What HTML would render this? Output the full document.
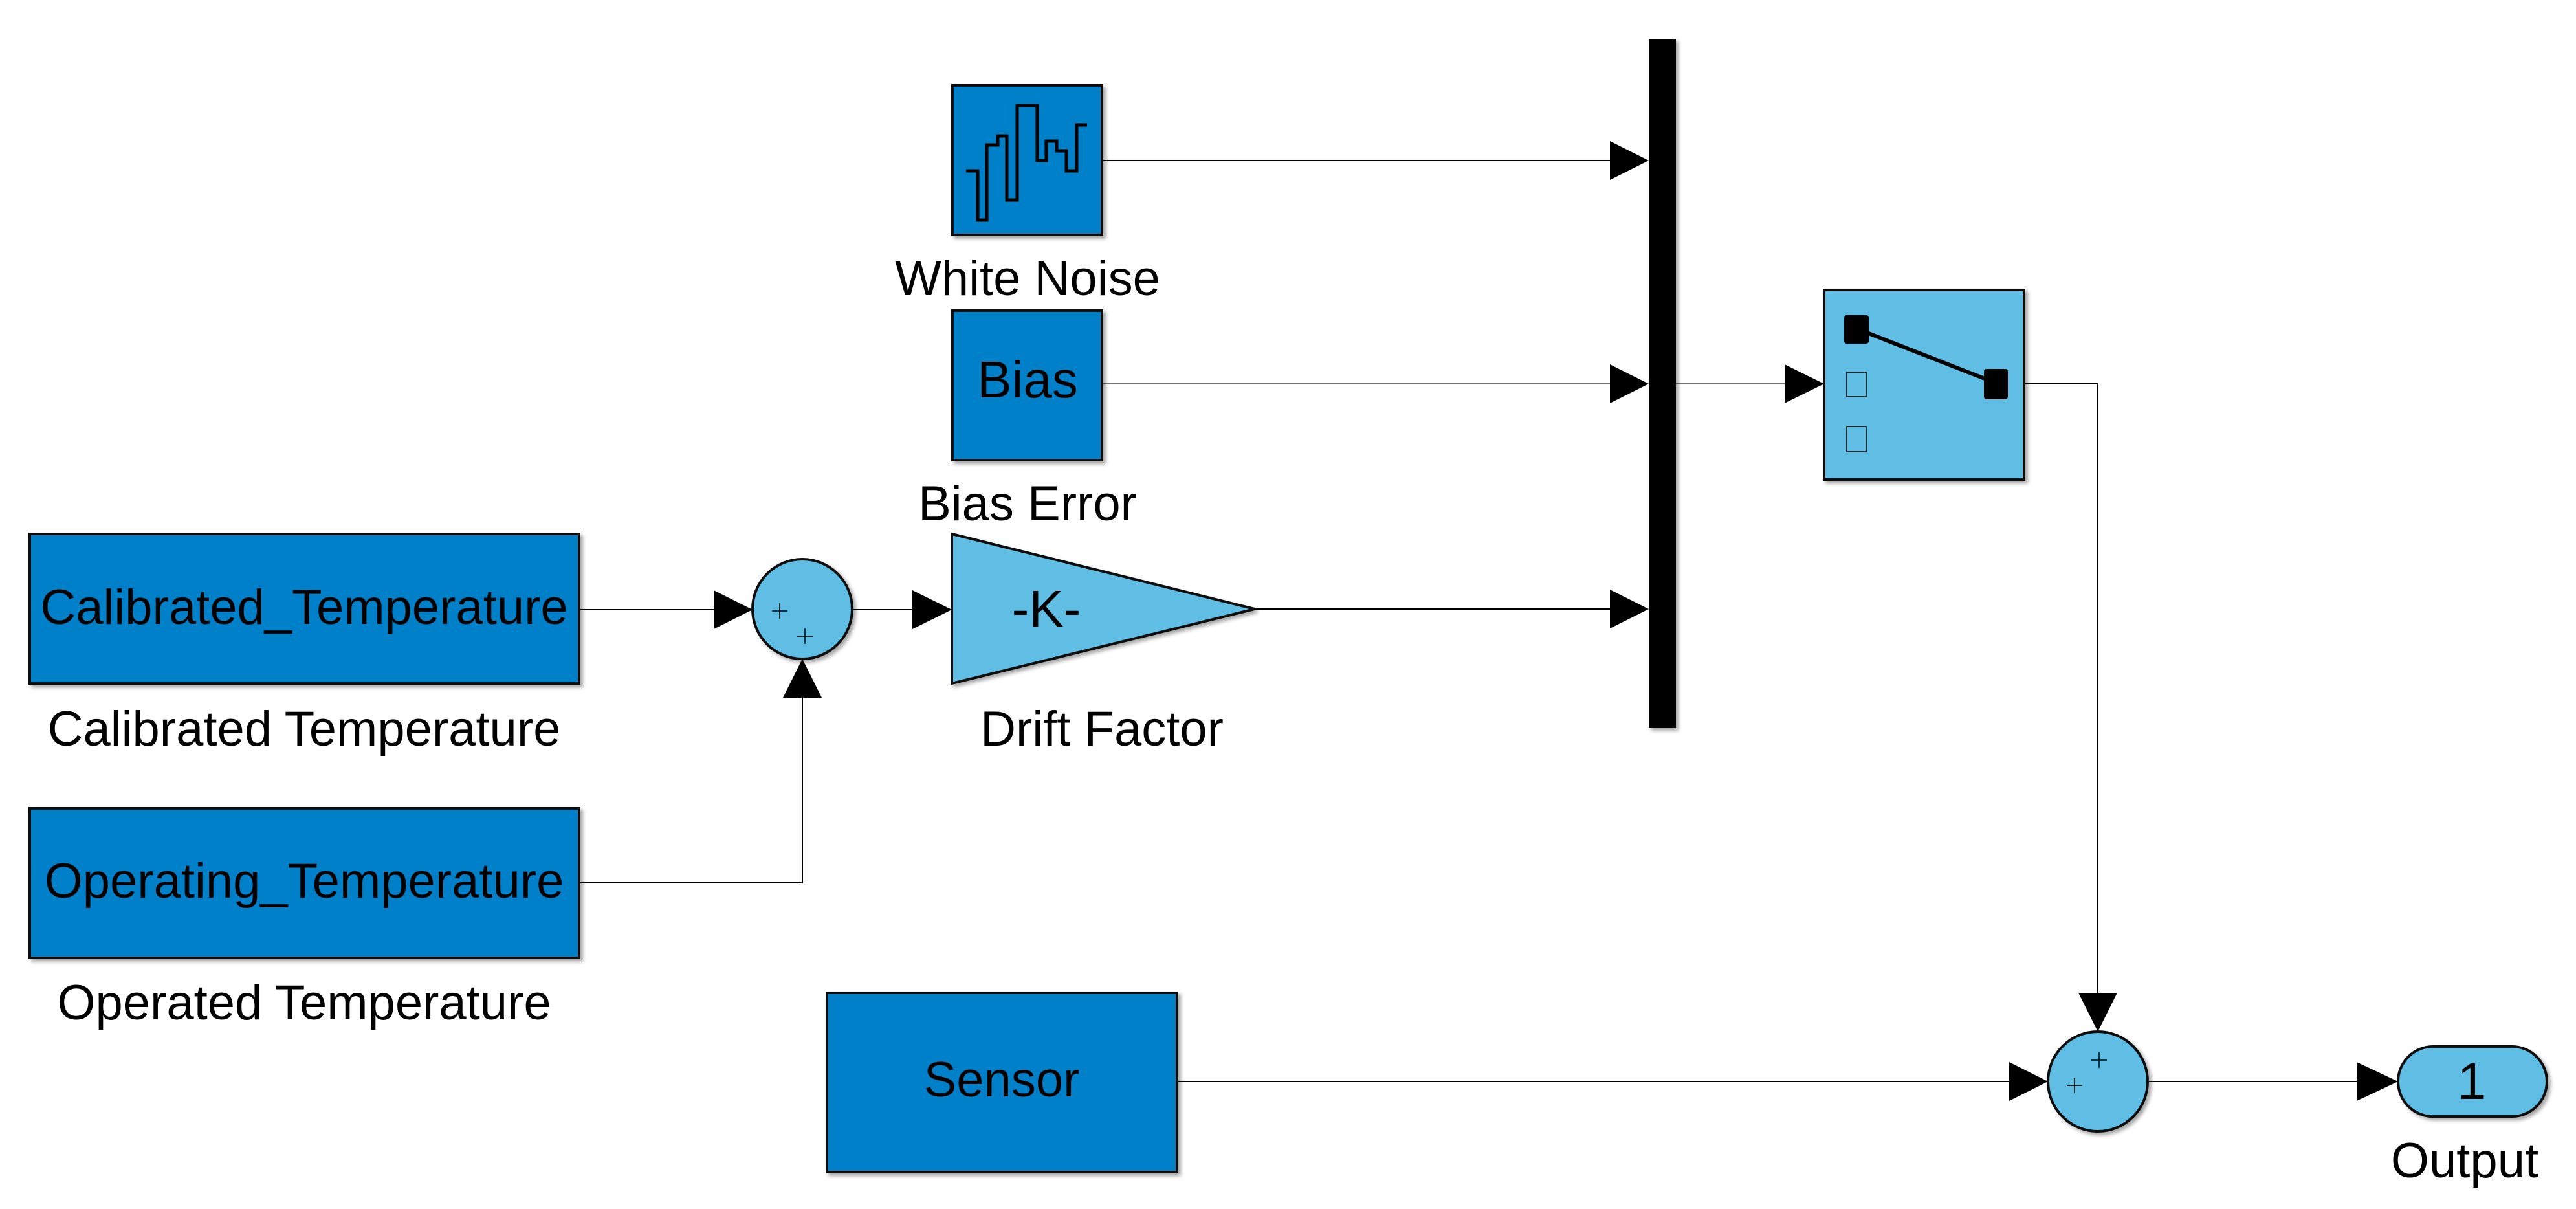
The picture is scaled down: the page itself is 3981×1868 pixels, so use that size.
<!DOCTYPE html>
<html><head><meta charset="utf-8"><style>
html,body{margin:0;padding:0;background:#fff;}
svg{display:block;}
text{font-family:"Liberation Sans",Arial,sans-serif;fill:#000;}
</style></head><body>
<svg width="3981" height="1868" viewBox="0 0 3981 1868" xmlns="http://www.w3.org/2000/svg">
<defs>
<filter id="sh" x="-10%" y="-10%" width="130%" height="130%"><feDropShadow dx="4" dy="4" stdDeviation="3" flood-color="#000" flood-opacity="0.35"/></filter>
</defs>
<g stroke="#000" stroke-width="2" fill="none">
<line x1="1703" y1="248" x2="2490" y2="248"/>
<line x1="1703" y1="593" x2="2490" y2="593" stroke="#777"/>
<line x1="1939" y1="941" x2="2490" y2="941"/>
<line x1="895" y1="942" x2="1105" y2="942"/>
<line x1="1317" y1="942" x2="1412" y2="942"/>
<polyline points="895,1364 1240,1364 1240,1076"/>
<line x1="2590" y1="593" x2="2760" y2="593" stroke="#777"/>
<polyline points="3128,593 3242,593 3242,1536"/>
<line x1="1819" y1="1671" x2="3107" y2="1671"/>
<line x1="3319" y1="1671" x2="3644" y2="1671"/>
</g>
<g fill="#000">
<polygon points="2488,218 2548,248 2488,278"/>
<polygon points="2488,563 2548,593 2488,623"/>
<polygon points="2488,911 2548,941 2488,971"/>
<polygon points="1103,912 1163,942 1103,972"/>
<polygon points="1410,912 1471,942 1410,972"/>
<polygon points="1210,1078 1240,1018 1270,1078"/>
<polygon points="2758,563 2819,593 2758,623"/>
<polygon points="3212,1534 3242,1594 3272,1534"/>
<polygon points="3105,1641 3165,1671 3105,1701"/>
<polygon points="3642,1641 3706,1671 3642,1701"/>
</g>
<g filter="url(#sh)" stroke="#111" stroke-width="4">
<rect x="1472" y="132" width="231" height="231" fill="#0080c8"/>
<rect x="1472" y="480" width="231" height="231" fill="#0080c8"/>
<rect x="46" y="825" width="849" height="231" fill="#0080c8"/>
<rect x="46" y="1249" width="849" height="231" fill="#0080c8"/>
<rect x="1278" y="1534" width="541" height="277" fill="#0080c8"/>
<polygon points="1471,825 1939,941 1471,1056" fill="#60bde3"/>
<circle cx="1240" cy="941" r="77" fill="#60bde3"/>
<circle cx="3242" cy="1671" r="77" fill="#60bde3"/>
<rect x="2819" y="448" width="309" height="293" fill="#60bde3"/>
<rect x="3706" y="1617" width="230" height="108" rx="54" fill="#60bde3"/>
</g>
<rect x="2548" y="60" width="42" height="1065" fill="#000" filter="url(#sh)"/>
<polyline points="1493,264 1511,264 1511,340 1525,340 1525,224 1542,224 1542,210 1556,210 1556,309 1572,309 1572,163 1603,163 1603,248 1617,248 1617,218 1633,218 1633,233 1648,233 1648,264 1664,264 1664,193 1680,193" fill="none" stroke="#000" stroke-width="5"/>
<g stroke="#000" stroke-width="1.5">
<line x1="1193" y1="944" x2="1217" y2="944"/><line x1="1205" y1="932" x2="1205" y2="956"/>
<line x1="1232" y1="983" x2="1256" y2="983"/><line x1="1244" y1="971" x2="1244" y2="995"/>
<line x1="3232" y1="1638" x2="3256" y2="1638"/><line x1="3244" y1="1626" x2="3244" y2="1650"/>
<line x1="3194" y1="1677" x2="3218" y2="1677"/><line x1="3206" y1="1665" x2="3206" y2="1689"/>
</g>
<rect x="2850" y="487" width="38" height="44" rx="4" fill="#000"/>
<rect x="3066" y="570" width="37" height="47" rx="4" fill="#000"/>
<line x1="2880" y1="512" x2="3080" y2="590" stroke="#000" stroke-width="6"/>
<rect x="2854" y="575" width="30" height="38" fill="none" stroke="#000" stroke-width="1.5"/>
<rect x="2854" y="659" width="30" height="39" fill="none" stroke="#000" stroke-width="1.5"/>
<g font-size="76" text-anchor="middle">
<text x="1588" y="456">White Noise</text>
<text x="1588" y="614" font-size="80">Bias</text>
<text x="1588" y="804">Bias Error</text>
<text x="470" y="964">Calibrated_Temperature</text>
<text x="470" y="1152">Calibrated Temperature</text>
<text x="470" y="1387">Operating_Temperature</text>
<text x="470" y="1575">Operated Temperature</text>
<text x="1617" y="968" font-size="80">-K-</text>
<text x="1703" y="1152">Drift Factor</text>
<text x="1548" y="1694">Sensor</text>
<text x="3820" y="1698" font-size="80">1</text>
<text x="3809" y="1819">Output</text>
</g>
</svg>
</body></html>
